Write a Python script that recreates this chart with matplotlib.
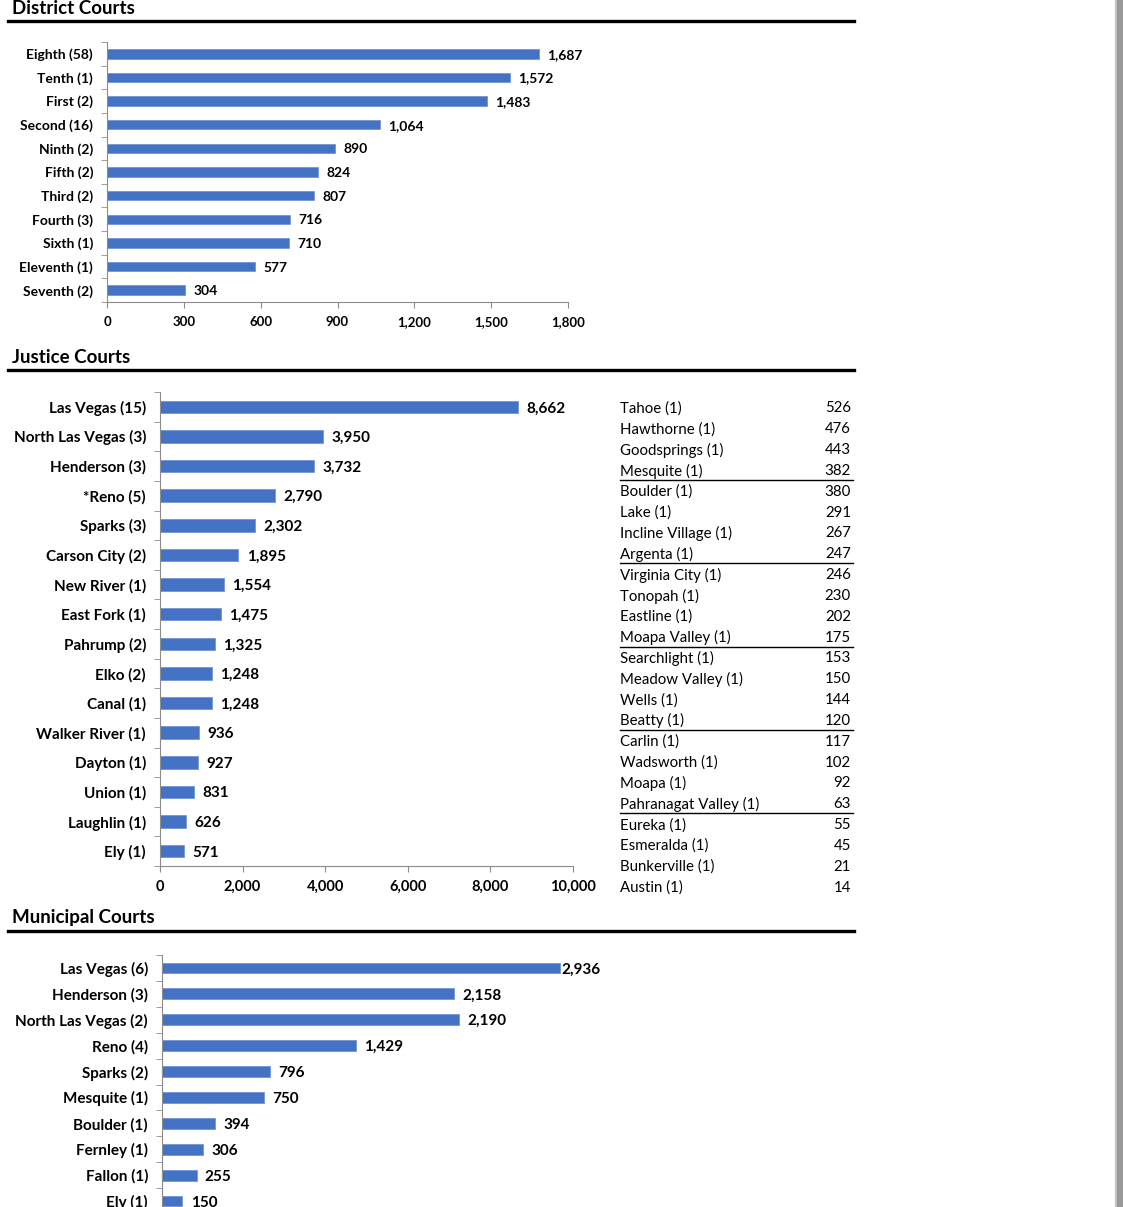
import matplotlib.pyplot as plt
from matplotlib.lines import Line2D
from matplotlib.patches import Rectangle
from matplotlib.ticker import FuncFormatter

plt.rcParams['font.family'] = ['Lato', 'DejaVu Sans']

# data
district_names = ['Eighth (58)', 'Tenth (1)', 'First (2)', 'Second (16)', 'Ninth (2)', 'Fifth (2)',
                  'Third (2)', 'Fourth (3)', 'Sixth (1)', 'Eleventh (1)', 'Seventh (2)']
district_vals = [1687, 1572, 1483, 1064, 890, 824, 807, 716, 710, 577, 304]

justice_names = ['Las Vegas (15)', 'North Las Vegas (3)', 'Henderson (3)', '*Reno (5)', 'Sparks (3)',
                 'Carson City (2)', 'New River (1)', 'East Fork (1)', 'Pahrump (2)', 'Elko (2)',
                 'Canal (1)', 'Walker River (1)', 'Dayton (1)', 'Union (1)', 'Laughlin (1)', 'Ely (1)']
justice_vals = [8662, 3950, 3732, 2790, 2302, 1895, 1554, 1475, 1325, 1248, 1248, 936, 927, 831, 626, 571]

small_names = ['Tahoe (1)', 'Hawthorne (1)', 'Goodsprings (1)', 'Mesquite (1)', 'Boulder (1)', 'Lake (1)',
               'Incline Village (1)', 'Argenta (1)', 'Virginia City (1)', 'Tonopah (1)', 'Eastline (1)',
               'Moapa Valley (1)', 'Searchlight (1)', 'Meadow Valley (1)', 'Wells (1)', 'Beatty (1)',
               'Carlin (1)', 'Wadsworth (1)', 'Moapa (1)', 'Pahranagat Valley (1)', 'Eureka (1)',
               'Esmeralda (1)', 'Bunkerville (1)', 'Austin (1)']
small_vals = [526, 476, 443, 382, 380, 291, 267, 247, 246, 230, 202, 175, 153, 150, 144, 120,
              117, 102, 92, 63, 55, 45, 21, 14]

municipal_names = ['Las Vegas (6)', 'Henderson (3)', 'North Las Vegas (2)', 'Reno (4)', 'Sparks (2)',
                   'Mesquite (1)', 'Boulder (1)', 'Fernley (1)', 'Fallon (1)', 'Ely (1)']
municipal_vals = [2936, 2158, 2190, 1429, 796, 750, 394, 306, 255, 150]

W, H = 1123, 1207
fig = plt.figure(figsize=(W / 100, H / 100), dpi=100)
BLUE = '#4472C4'
AXC = '#8c8c8c'


def box(l, t, r, b):
    return [l / W, 1 - b / H, (r - l) / W, (b - t) / H]


def header(text, y_text, y_line):
    fig.text(12 / W, 1 - y_text / H, text, fontsize=13.5, fontweight='bold', va='center', ha='left')
    fig.add_artist(Line2D([8 / W, 854 / W], [1 - y_line / H] * 2, color='black', lw=2.4,
                          transform=fig.transFigure))


def bar_chart(rect, names, vals, xmax, step, fs, lab_fs, height, show_x=True, tight_max=False):
    ax = fig.add_axes(rect)
    n = len(names)
    ys = list(range(n))
    ax.barh(ys, vals, height=height, color=BLUE, edgecolor='#6a8fd4', linewidth=0.5)
    ax.set_ylim(n - 0.5, -0.5)
    ax.set_xlim(0, xmax)
    ax.set_yticks(ys)
    ax.set_yticklabels(names, fontsize=fs, fontweight='bold')
    ax.set_yticks([i - 0.5 for i in range(n + 1)], minor=True)
    ax.tick_params(axis='y', which='major', length=0, pad=10)
    ax.tick_params(axis='y', which='minor', length=4, color=AXC, direction='out')
    for s in ['top', 'right']:
        ax.spines[s].set_visible(False)
    ax.spines['left'].set_color(AXC)
    ax.spines['bottom'].set_color(AXC)
    if show_x:
        ax.set_xticks(range(0, xmax + 1, step))
        ax.xaxis.set_major_formatter(FuncFormatter(lambda v, p: f'{int(v):,}'))
        ax.tick_params(axis='x', length=4, color=AXC, pad=6, labelsize=fs - 0.5)
        for t in ax.get_xticklabels():
            t.set_fontweight('bold')
    else:
        ax.spines['bottom'].set_visible(False)
        ax.set_xticks([])
    for y, v in zip(ys, vals):
        off = 1 if (tight_max and v == max(vals)) else 6
        ax.annotate(f'{v:,}', (v, y), xytext=(off, 0), textcoords='offset points',
                    va='center_baseline', ha='left', fontsize=lab_fs, fontweight='bold')
    return ax


# District Courts
header('District Courts', 8, 21)
bar_chart(box(107, 42, 568, 302), district_names, district_vals, 1800, 300, 10, 10, 0.4)

# Justice Courts
header('Justice Courts', 357, 370)
bar_chart(box(160, 392, 573, 866), justice_names, justice_vals, 10000, 2000, 11, 11, 0.42)

# small justice courts table
row0, dy = 407, 20.83
for i, (nm, v) in enumerate(zip(small_names, small_vals)):
    y = 1 - (row0 + i * dy) / H
    fig.text(620 / W, y, nm, fontsize=10.8, va='center_baseline', ha='left')
    fig.text(851 / W, y, f'{v:,}', fontsize=10.8, va='center_baseline', ha='right')
    if i % 4 == 3 and i < len(small_names) - 1:
        yl = 1 - (row0 + i * dy + dy / 2) / H
        fig.add_artist(Line2D([620 / W, 853 / W], [yl, yl], color='black', lw=1,
                              transform=fig.transFigure))

# Municipal Courts
header('Municipal Courts', 918, 931)
bar_chart(box(162, 955, 636, 1214), municipal_names, municipal_vals, 3500, 500, 11, 11, 0.42,
          show_x=False, tight_max=True)

# grey page edge on the right
fig.add_artist(Rectangle((1115 / W, 0), 2 / W, 1, color='#c8c8c8', transform=fig.transFigure))
fig.add_artist(Rectangle((1117 / W, 0), 6 / W, 1, color='#999999', transform=fig.transFigure))

fig.savefig('out.png', dpi=100)
